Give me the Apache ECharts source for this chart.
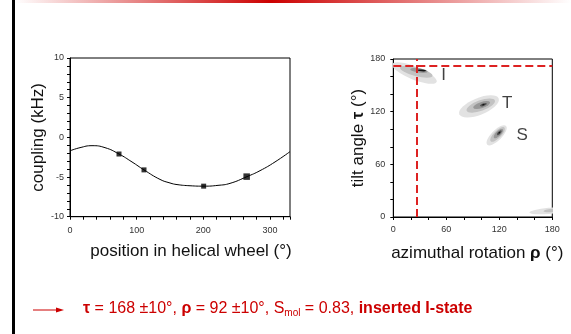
<!DOCTYPE html>
<html>
<head>
<meta charset="utf-8">
<script src="https://cdn.jsdelivr.net/npm/echarts@6/dist/echarts.min.js"></script>
<style>
html,body{margin:0;padding:0;background:#fff;}
#c{width:571px;height:334px;}
</style>
</head>
<body>
<div id="c"></div>
<script>
// ---- Left panel: coupling vs helical-wheel position ----
const curveX = [0, 15, 33, 52.5, 73.5, 93, 111, 135, 150, 160.5, 180, 201, 222, 240, 265.5, 285, 307.5, 330];
const curveY = [-1.7, -1.3, -1.05, -1.3, -2.1, -3.1, -4.1, -5.3, -5.75, -5.95, -6.1, -6.15, -6.05, -5.8, -4.95, -4.2, -3.1, -1.8];
const pointX = [73.5, 111, 200.5, 265];
const pointY = [-2.1, -4.1, -6.15, -4.95];
const leftXTickLabels = [0, 100, 200, 300];
const leftYTickLabels = [-10, -5, 0, 5, 10];

// ---- Right panel: contour clusters (rho, tau, rho-radius, tau-radius, angle, level) ----
const contourRho       = [24, 26, 29, 32,   97, 99, 100, 102, 102,   117, 118, 119, 120, 120,   176, 180];
const contourTau       = [164, 165.5, 167, 167,   126, 127, 127.5, 128, 128,   93, 94, 95, 96, 96,   7, 7.5];
const contourRhoRadius = [27, 19, 10, 5,   24, 17, 10, 4, 1.5,   15, 11, 7, 3.5, 1.2,   22, 10];
const contourTauRadius = [7.5, 5, 2.5, 1,   9.5, 6, 3.5, 1.5, 0.8,   6, 4.2, 2.8, 1.5, 0.7,   3.5, 2];
const contourAngle     = [-22, -15, -8, -5,   22, 20, 18, 18, 18,   45, 45, 45, 45, 45,   5, 5];
const contourLevel     = [0, 1, 2, 4,   0, 1, 2, 3, 4,   0, 1, 2, 3, 4,   0, 1];
const stateNames = ['I', 'T', 'S'];
const stateRho = [57, 129, 146];
const stateTau = [161, 130, 93];
const guideRho = 26.5;
const guideTau = 172;
const rightTickLabels = [0, 60, 120, 180];

const levelColors = ['#e2e2e2', '#c2c2c2', '#979797', '#555555', '#151515'];
const FONT = 'Liberation Sans, Arial, sans-serif';

const chart = echarts.init(document.getElementById('c'), null, {renderer: 'canvas'});

const axisCommon = {
  type: 'value',
  axisLine: {show: true, onZero: false, lineStyle: {color: '#000', width: 1}},
  axisTick: {show: true, inside: false, length: 3, lineStyle: {color: '#000', width: 1}},
  splitLine: {show: false},
  nameTextStyle: {color: '#111', fontSize: 17, fontFamily: FONT}
};

const option = {
  animation: false,
  backgroundColor: '#fff',
  grid: [
    {left: 70, top: 58, width: 220, height: 158.7, show: true, borderColor: '#000', borderWidth: 1},
    {left: 393.3, top: 59, width: 159, height: 158, show: true, borderColor: '#000', borderWidth: 1}
  ],
  xAxis: [
    Object.assign({}, axisCommon, {
      gridIndex: 0, min: 0, max: 330, interval: 20,
      name: 'position in helical wheel (°)', nameLocation: 'middle', nameGap: 26,
      nameTextStyle: {color: '#111', fontSize: 17, fontFamily: FONT, padding: [0, 0, 0, 22]},
      axisLabel: {fontSize: 9, color: '#333', fontFamily: FONT, margin: 9,
        formatter: v => leftXTickLabels.indexOf(v) >= 0 ? String(v) : ''}
    }),
    Object.assign({}, axisCommon, {
      gridIndex: 1, min: 0, max: 180, interval: 20,
      name: 'azimuthal rotation {b|ρ} (°)', nameLocation: 'middle', nameGap: 28,
      nameTextStyle: {color: '#111', fontSize: 17, fontFamily: FONT, padding: [0, 0, 0, 9],
        rich: {b: {fontSize: 17, fontWeight: 'bold', fontFamily: FONT, color: '#111'}}},
      axisLabel: {fontSize: 9, color: '#333', fontFamily: FONT, margin: 8,
        formatter: v => rightTickLabels.indexOf(v) >= 0 ? String(v) : ''}
    })
  ],
  yAxis: [
    Object.assign({}, axisCommon, {
      gridIndex: 0, min: -10, max: 10, interval: 1,
      name: 'coupling (kHz)', nameLocation: 'middle', nameGap: 21.5,
      axisLabel: {fontSize: 9, color: '#333', fontFamily: FONT, margin: 6,
        formatter: v => leftYTickLabels.indexOf(v) >= 0 ? String(v) : ''}
    }),
    Object.assign({}, axisCommon, {
      gridIndex: 1, min: 0, max: 180, interval: 20,
      name: 'tilt angle {b|τ} (°)', nameLocation: 'middle', nameGap: 21.5,
      nameTextStyle: {color: '#111', fontSize: 17, fontFamily: FONT,
        rich: {b: {fontSize: 17, fontWeight: 'bold', fontFamily: FONT, color: '#111'}}},
      axisLabel: {fontSize: 9, color: '#333', fontFamily: FONT, margin: 8,
        formatter: v => rightTickLabels.indexOf(v) >= 0 ? String(v) : ''}
    })
  ],
  series: [
    {
      type: 'line', xAxisIndex: 0, yAxisIndex: 0,
      data: curveX.map((x, i) => [x, curveY[i]]),
      smooth: 0.5, showSymbol: false, symbol: 'none',
      lineStyle: {color: '#000', width: 1}, z: 2
    },
    {
      type: 'scatter', xAxisIndex: 0, yAxisIndex: 0,
      data: pointX.map((x, i) => [x, pointY[i]]),
      symbol: 'rect', symbolSize: (v, p) => (p.dataIndex === 3 ? 6.5 : 5),
      itemStyle: {color: '#000'}, z: 3
    },
    {
      type: 'custom', xAxisIndex: 1, yAxisIndex: 1, clip: true,
      data: contourRho.map((r, i) => [r, contourTau[i], contourRhoRadius[i], contourTauRadius[i], contourAngle[i], contourLevel[i]]),
      encode: {x: 0, y: 1},
      renderItem: function (params, api) {
        const c = api.coord([api.value(0), api.value(1)]);
        const s = api.size([api.value(2), api.value(3)]);
        return {
          type: 'circle',
          x: c[0], y: c[1],
          scaleX: s[0], scaleY: s[1],
          rotation: api.value(4) * Math.PI / 180,
          shape: {cx: 0, cy: 0, r: 1},
          style: {fill: levelColors[api.value(5)]}
        };
      },
      z: 2
    },
    {
      type: 'scatter', xAxisIndex: 1, yAxisIndex: 1,
      data: stateRho.map((r, i) => ({name: stateNames[i], value: [r, stateTau[i]]})),
      symbolSize: 0,
      label: {show: true, position: 'inside', formatter: p => p.name, fontSize: 17, color: '#111', fontFamily: FONT},
      markLine: {
        silent: true, symbol: ['none', 'none'], label: {show: false},
        lineStyle: {color: '#dd2222', width: 2, type: [8, 4]},
        data: [{xAxis: guideRho}, {yAxis: guideTau}]
      },
      z: 4
    }
  ],
  graphic: [
    {type: 'rect', left: 12, top: 0, shape: {width: 3, height: 334}, style: {fill: '#000'}, z: 10},
    {type: 'rect', left: 15, top: 0, shape: {width: 556, height: 3},
      style: {fill: new echarts.graphic.LinearGradient(0, 0, 1, 0, [
        {offset: 0, color: '#ffffff'}, {offset: 0.46, color: '#cc0000'}, {offset: 1, color: '#ffffff'}])}, z: 10},
    {type: 'line', shape: {x1: 33, y1: 310, x2: 59, y2: 310}, style: {stroke: '#cc0000', lineWidth: 1}, z: 10},
    {type: 'polygon', shape: {points: [[64, 310], [56, 307.5], [56, 312.5]]}, style: {fill: '#cc0000'}, z: 10},
    {type: 'text', x: 83, y: 309, z: 10,
      style: {
        text: '{b|τ} = 168 ±10°, {b|ρ} = 92 ±10°, S{sub|mol} = 0.83, {b|inserted I-state}',
        fill: '#cc0000', fontSize: 16, fontFamily: FONT, verticalAlign: 'middle', align: 'left', lineHeight: 19,
        rich: {
          b: {fontSize: 16, fontWeight: 'bold', fontFamily: FONT, fill: '#cc0000', lineHeight: 19},
          sub: {fontSize: 10, fontFamily: FONT, fill: '#cc0000', lineHeight: 10, verticalAlign: 'bottom'}
        }
      }}
  ]
};

chart.setOption(option);
</script>
</body>
</html>
